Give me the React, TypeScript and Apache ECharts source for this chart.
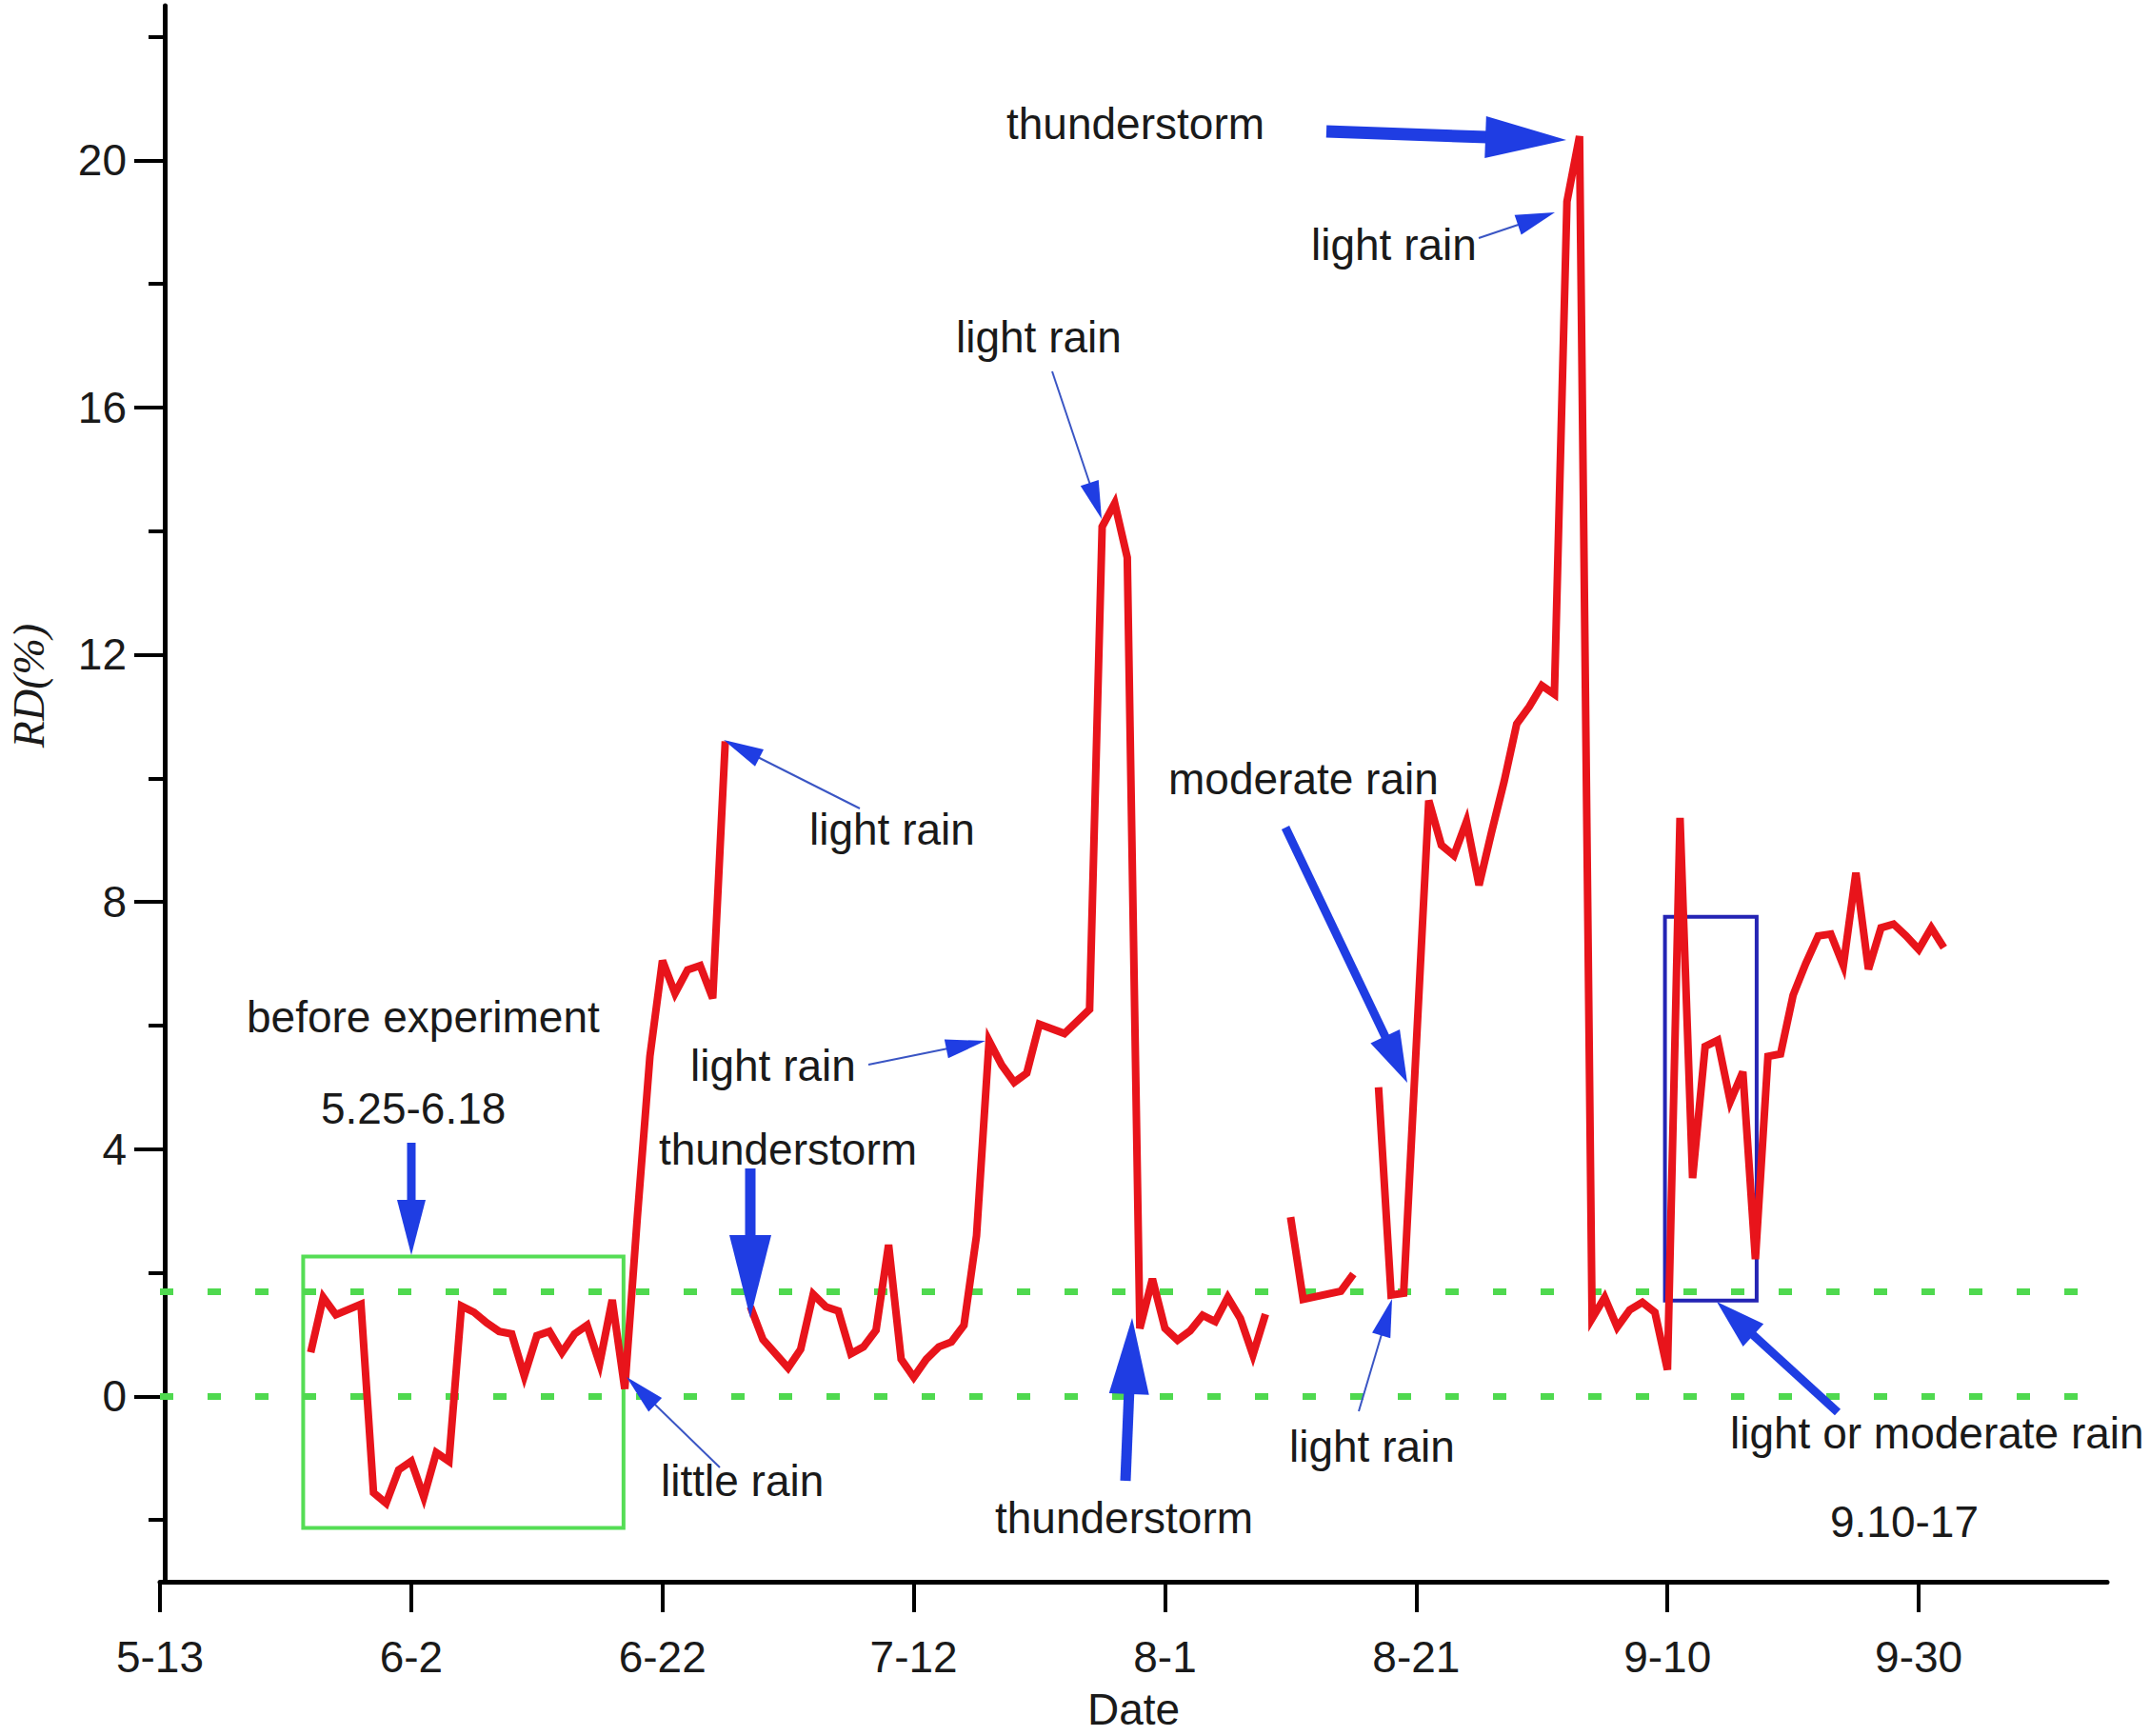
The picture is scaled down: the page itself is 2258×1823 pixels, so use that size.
import React, { useEffect, useRef } from "react";
import * as echarts from "echarts";

// ---- date helpers (days counted from 5-13) ----
const MONTH_START: Record<number, number> = { 5: 0, 6: 31, 7: 61, 8: 92, 9: 123, 10: 153 };
const ORIGIN_DAY = 13;
function dayIndex(md: string): number {
  const [m, d] = md.split("-").map(Number);
  return MONTH_START[m] + d - ORIGIN_DAY;
}

// ---- data ----
const tickDates = ["5-13", "6-2", "6-22", "7-12", "8-1", "8-21", "9-10", "9-30"];
const yLabelValues = [0, 4, 8, 12, 16, 20];
const yMinorValues = [-2, 2, 6, 10, 14, 18, 22];

const dates = [
  "5-25", "5-26", "5-27", "5-29", "5-30", "5-31", "6-1", "6-2", "6-3", "6-4", "6-5",
  "6-6", "6-7", "6-8", "6-9", "6-10", "6-11", "6-12", "6-13", "6-14", "6-15", "6-16",
  "6-17", "6-18", "6-19", "6-20", "6-21", "6-22", "6-23", "6-24", "6-25", "6-26", "6-27",
  "6-28",
  "6-29", "6-30", "7-2", "7-3", "7-4", "7-5", "7-6", "7-7", "7-8", "7-9", "7-10", "7-11",
  "7-12", "7-13", "7-14", "7-15", "7-16", "7-17", "7-18", "7-19", "7-20", "7-21", "7-22",
  "7-24", "7-26", "7-27", "7-28", "7-29", "7-30", "7-31", "8-1", "8-2", "8-3", "8-4",
  "8-5", "8-6", "8-7", "8-8", "8-9",
  "8-10",
  "8-11", "8-12", "8-15", "8-16",
  "8-17",
  "8-18", "8-19", "8-20", "8-22", "8-23", "8-24", "8-25", "8-26", "8-27", "8-28", "8-29",
  "8-30", "8-31", "9-1", "9-2", "9-3", "9-4", "9-5", "9-6", "9-7", "9-8", "9-9", "9-10",
  "9-11", "9-12", "9-13", "9-14", "9-15", "9-16", "9-17", "9-18", "9-19", "9-20", "9-21",
  "9-22", "9-23", "9-24", "9-25", "9-26", "9-27", "9-28", "9-29", "9-30", "10-1", "10-2",
];
const rdValues: (number | null)[] = [
  0.71, 1.6, 1.32, 1.49, -1.56, -1.73, -1.19, -1.05, -1.63, -0.91, -1.05,
  1.46, 1.36, 1.19, 1.05, 1.01, 0.33, 0.98, 1.05, 0.71, 1.01, 1.15,
  0.53, 1.56, 0.12, 2.9, 5.5, 7.05, 6.52, 6.9, 6.97, 6.44, 10.6,
  null,
  1.45, 0.92, 0.46, 0.76, 1.65, 1.45, 1.38, 0.69, 0.8, 1.07, 2.45, 0.6,
  0.31, 0.6, 0.8, 0.88, 1.15, 2.6, 5.75, 5.36, 5.08, 5.23, 6.02,
  5.87, 6.26, 14.07, 14.45, 13.57, 1.1, 1.9, 1.1, 0.91, 1.06, 1.31,
  1.21, 1.6, 1.26, 0.67, 1.33,
  null,
  2.9, 1.57, 1.7, 1.98,
  null,
  5.0, 1.64, 1.67, 9.64, 8.92, 8.75, 9.3, 8.27, 9.13, 9.95, 10.88,
  11.16, 11.5, 11.36, 19.33, 20.39, 1.26, 1.6, 1.12, 1.4, 1.52, 1.36, 0.43,
  9.36, 3.53, 5.66, 5.76, 4.77, 5.25, 2.22, 5.5, 5.54, 6.49, 7.0,
  7.45, 7.48, 6.97, 8.47, 6.91, 7.58, 7.64, 7.45, 7.23, 7.58, 7.26,
];
const dashedLevels = [0, 1.7];

// ---- annotation geometry (pixels) ----
const FONT = "46px 'Liberation Sans', Arial, sans-serif";
const TEXT_COLOR = "#1a1a1a";
const BLUE = "#1f3de3";
const THIN_BLUE = "#3a55c4";

const notes = [
  { t: "before experiment", x: 259, y: 1068 },
  { t: "5.25-6.18", x: 337, y: 1164 },
  { t: "little rain", x: 694, y: 1555 },
  { t: "light rain", x: 850, y: 871 },
  { t: "light rain", x: 725, y: 1119 },
  { t: "thunderstorm", x: 692, y: 1207 },
  { t: "light rain", x: 1004, y: 354 },
  { t: "thunderstorm", x: 1045, y: 1594 },
  { t: "moderate rain", x: 1227, y: 818 },
  { t: "light rain", x: 1354, y: 1519 },
  { t: "thunderstorm", x: 1057, y: 130 },
  { t: "light rain", x: 1377, y: 257 },
  { t: "light or moderate rain", x: 1817, y: 1505 },
  { t: "9.10-17", x: 1922, y: 1598 },
];

// [tailX, tailY, tipX, tipY, shaftWidth, headLength, headWidth, thin]
const arrows: [number, number, number, number, number, number, number, boolean][] = [
  [432, 1200, 432, 1318, 9, 58, 30, false],
  [788, 1227, 788, 1384, 11, 87, 44, false],
  [1182, 1555, 1189, 1384, 11, 80, 42, false],
  [1350, 869, 1478, 1137, 9, 54, 34, false],
  [1393, 138, 1645, 147, 13, 85, 44, false],
  [1930, 1483, 1803, 1367, 9, 52, 32, false],
  [756, 1541, 658, 1446, 2, 42, 20, true],
  [903, 849, 760, 777, 2, 42, 20, true],
  [912, 1118, 1035, 1093, 2, 42, 20, true],
  [1105, 390, 1157, 545, 2, 40, 20, true],
  [1427, 1482, 1462, 1364, 2, 40, 20, true],
  [1553, 250, 1633, 223, 2, 41, 22, true],
];

function buildArrow(a: [number, number, number, number, number, number, number, boolean]) {
  const [x1, y1, x2, y2, sw, hl, hw, thin] = a;
  const dx = x2 - x1;
  const dy = y2 - y1;
  const len = Math.sqrt(dx * dx + dy * dy);
  const ux = dx / len;
  const uy = dy / len;
  const nx = -uy;
  const ny = ux;
  const bx = x2 - ux * hl;
  const by = y2 - uy * hl;
  return [
    {
      type: "line",
      shape: { x1, y1, x2: bx + ux * 2, y2: by + uy * 2 },
      style: { stroke: thin ? THIN_BLUE : BLUE, lineWidth: sw, lineCap: "butt" },
      z: 100,
    },
    {
      type: "polygon",
      shape: {
        points: [
          [x2, y2],
          [bx + (nx * hw) / 2, by + (ny * hw) / 2],
          [bx - (nx * hw) / 2, by - (ny * hw) / 2],
        ],
      },
      style: { fill: BLUE },
      z: 100,
    },
  ];
}

export default function App() {
  const ref = useRef<HTMLDivElement>(null);

  useEffect(() => {
    if (!ref.current) return;
    const chart = echarts.init(ref.current, undefined, { renderer: "svg" });

    const tickValues = tickDates.map(dayIndex);
    const seriesData = dates.map((d, i) => [dayIndex(d), rdValues[i] === null ? "-" : rdValues[i]]);

    const graphics: any[] = [];
    notes.forEach((n) => {
      graphics.push({
        type: "text",
        x: n.x,
        y: n.y,
        style: { text: n.t, font: FONT, fill: TEXT_COLOR, align: "left", verticalAlign: "middle" },
        z: 100,
      });
    });
    arrows.forEach((a) => graphics.push(...buildArrow(a)));
    // y-axis title
    graphics.push({
      type: "text",
      x: 30,
      y: 720,
      rotation: Math.PI / 2,
      style: {
        text: "RD(%)",
        font: "italic 46px 'Liberation Serif', 'Times New Roman', serif",
        fill: TEXT_COLOR,
        align: "center",
        verticalAlign: "middle",
      },
      z: 100,
    });

    const labelStyle = {
      fontFamily: "'Liberation Sans', Arial, sans-serif",
      fontSize: 46,
      color: TEXT_COLOR,
    };

    chart.setOption({
      animation: false,
      backgroundColor: "#ffffff",
      grid: { left: 168, right: 45, top: 6, bottom: 162, containLabel: false, outerBoundsMode: "none" },
      xAxis: {
        type: "value",
        min: 0,
        max: 155,
        name: "Date",
        nameLocation: "middle",
        nameGap: 111,
        nameTextStyle: { ...labelStyle, lineHeight: 46 },
        axisLine: { show: true, onZero: false, lineStyle: { color: "#000", width: 5 } },
        axisTick: { show: true, customValues: tickValues, length: 32, lineStyle: { color: "#000", width: 4 } },
        axisLabel: {
          ...labelStyle,
          customValues: tickValues,
          margin: 56,
          formatter: (v: number) => {
            const i = tickValues.indexOf(Math.round(v));
            return i >= 0 ? tickDates[i] : "";
          },
        },
        splitLine: { show: false },
      },
      yAxis: [
        {
          type: "value",
          min: -3,
          max: 22.5,
          offset: -5,
          axisLine: { show: true, onZero: false, lineStyle: { color: "#000", width: 5 } },
          axisTick: { show: true, customValues: yLabelValues, length: 32, lineStyle: { color: "#000", width: 4 } },
          axisLabel: {
            ...labelStyle,
            customValues: yLabelValues,
            margin: 40,
            verticalAlign: "middle",
            padding: [0, 0, 26, 0],
          },
          splitLine: { show: false },
        },
        {
          type: "value",
          min: -3,
          max: 22.5,
          offset: -5,
          position: "left",
          axisLine: { show: false, onZero: false },
          axisTick: { show: true, customValues: yMinorValues, length: 17, lineStyle: { color: "#000", width: 4 } },
          axisLabel: { show: false },
          splitLine: { show: false },
        },
      ],
      series: [
        {
          type: "line",
          name: "levels",
          data: [],
          z: 1,
          silent: true,
          markLine: {
            silent: true,
            symbol: ["none", "none"],
            label: { show: false },
            lineStyle: { color: "#4fd94f", width: 7, type: [14, 36], opacity: 1 },
            data: dashedLevels.map((v) => ({ yAxis: v })),
          },
          markArea: {
            silent: true,
            label: { show: false },
            data: [
              [
                { xAxis: 11.4, yAxis: 2.26, itemStyle: { color: "rgba(0,0,0,0)", borderColor: "#55dd55", borderWidth: 4 } },
                { xAxis: 36.9, yAxis: -2.13 },
              ],
              [
                { xAxis: 119.8, yAxis: 7.76, itemStyle: { color: "rgba(0,0,0,0)", borderColor: "#2424b4", borderWidth: 4 } },
                { xAxis: 127.1, yAxis: 1.55 },
              ],
            ],
          },
        },
        {
          type: "line",
          name: "RD",
          data: seriesData,
          connectNulls: false,
          showSymbol: false,
          symbol: "none",
          z: 5,
          lineStyle: { color: "#e8141b", width: 8, join: "miter" },
        },
      ],
      graphic: graphics,
    });

    return () => chart.dispose();
  }, []);

  return (
    <div
      ref={ref}
      style={{ position: "absolute", left: 0, top: 0, width: 2258, height: 1823, background: "#fff" }}
    />
  );
}
